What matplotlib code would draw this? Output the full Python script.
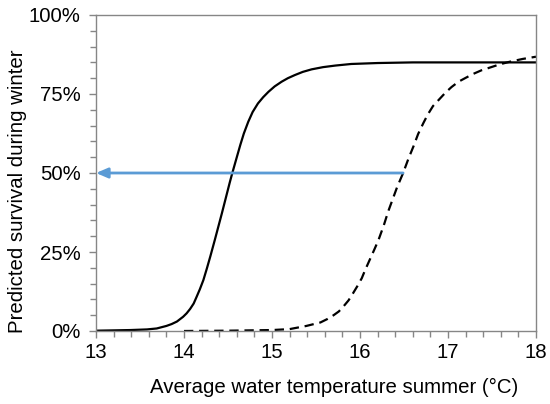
import matplotlib
matplotlib.use("Agg")
import matplotlib.pyplot as plt
from matplotlib.ticker import MultipleLocator, PercentFormatter

# Solid curve
solid_x = [13.0, 13.2, 13.39, 13.58, 13.69, 13.80, 13.86, 13.92, 13.99, 14.03, 14.07,
           14.11, 14.14, 14.18, 14.22, 14.26, 14.30, 14.35, 14.43, 14.52, 14.549,
           14.60, 14.64, 14.68, 14.73, 14.78, 14.84, 14.90, 14.96, 15.03, 15.11, 15.18,
           15.26, 15.35, 15.45, 15.58, 15.72, 15.9, 16.2, 16.6, 17.0, 18.0]
solid_y = [0.1, 0.2, 0.3, 0.5, 0.8, 1.6, 2.2, 3.0, 4.5, 5.6, 7.0,
           8.7, 10.6, 13.2, 16.1, 19.8, 23.7, 28.8, 37.2, 47.0, 50.0,
           55.0, 58.9, 62.5, 66.2, 69.3, 72.0, 74.0, 75.7, 77.4, 78.9, 80.0,
           81.0, 82.0, 82.8, 83.5, 84.0, 84.5, 84.8, 85.0, 85.0, 85.0]

# Dashed curve
dash_x = [14.0, 14.5, 15.0, 15.20, 15.39, 15.55, 15.63, 15.70, 15.76, 15.81, 15.87,
          15.92, 15.97, 16.02, 16.06, 16.11, 16.16, 16.21, 16.27, 16.32, 16.42,
          16.49, 16.55, 16.61, 16.66, 16.72, 16.77, 16.83, 16.90, 16.97, 17.04,
          17.12, 17.20, 17.29, 17.38, 17.48, 17.59, 17.70, 17.85, 18.0]
dash_y = [0.0, 0.1, 0.3, 0.6, 1.6, 2.7, 3.8, 5.0, 6.2, 7.7, 9.7,
          11.9, 14.2, 16.7, 19.4, 22.5, 25.6, 28.8, 33.4, 37.8, 45.4,
          50.0, 54.5, 58.6, 62.3, 65.8, 68.5, 71.2, 73.3, 75.4, 77.2,
          78.9, 80.1, 81.4, 82.5, 83.4, 84.4, 85.2, 86.1, 86.8]

# Arrow (start -> end)
arrow_x = [16.49, 13.0]
arrow_y = [50.0, 50.0]

plt.rcParams['font.family'] = ['Liberation Sans', 'DejaVu Sans']

fig = plt.figure(figsize=(5.5, 4.04), dpi=100)
ax = fig.add_axes([96/550, 1-331/404, 440/550, 316/404])

ax.plot(solid_x, solid_y, color='black', lw=1.6, solid_joinstyle='round')
ax.plot(dash_x, dash_y, color='black', lw=1.6, dashes=(4.2, 2.6))

ax.annotate('', xy=(arrow_x[1], arrow_y[1]), xytext=(arrow_x[0], arrow_y[0]),
            arrowprops=dict(arrowstyle='-|>,head_length=0.7,head_width=0.3',
                            color='#5B9BD5', lw=2, shrinkA=0, shrinkB=0))

ax.set_xlim(13, 18)
ax.set_ylim(0, 100)
ax.xaxis.set_major_locator(MultipleLocator(1))
ax.xaxis.set_minor_locator(MultipleLocator(0.2))
ax.yaxis.set_major_locator(MultipleLocator(25))
ax.yaxis.set_minor_locator(MultipleLocator(5))
ax.yaxis.set_major_formatter(PercentFormatter(decimals=0))

gray = '#868686'
for s in ax.spines.values():
    s.set_color(gray)
    s.set_linewidth(1.0)
ax.tick_params(which='both', direction='out', color=gray, width=1.0, labelsize=14.7,
               labelcolor='black')
ax.tick_params(which='major', length=5)
ax.tick_params(which='minor', length=4)
ax.tick_params(axis='x', pad=4)
ax.tick_params(axis='y', pad=6)

ax.set_xlabel('Average water temperature summer (°C)', fontsize=14.7, labelpad=11)
ax.set_ylabel('Predicted survival during winter', fontsize=14.7, labelpad=1)
ax.xaxis.label.set_x(0.542)
ax.yaxis.label.set_y(0.443)

fig.savefig('out.png', dpi=100)
